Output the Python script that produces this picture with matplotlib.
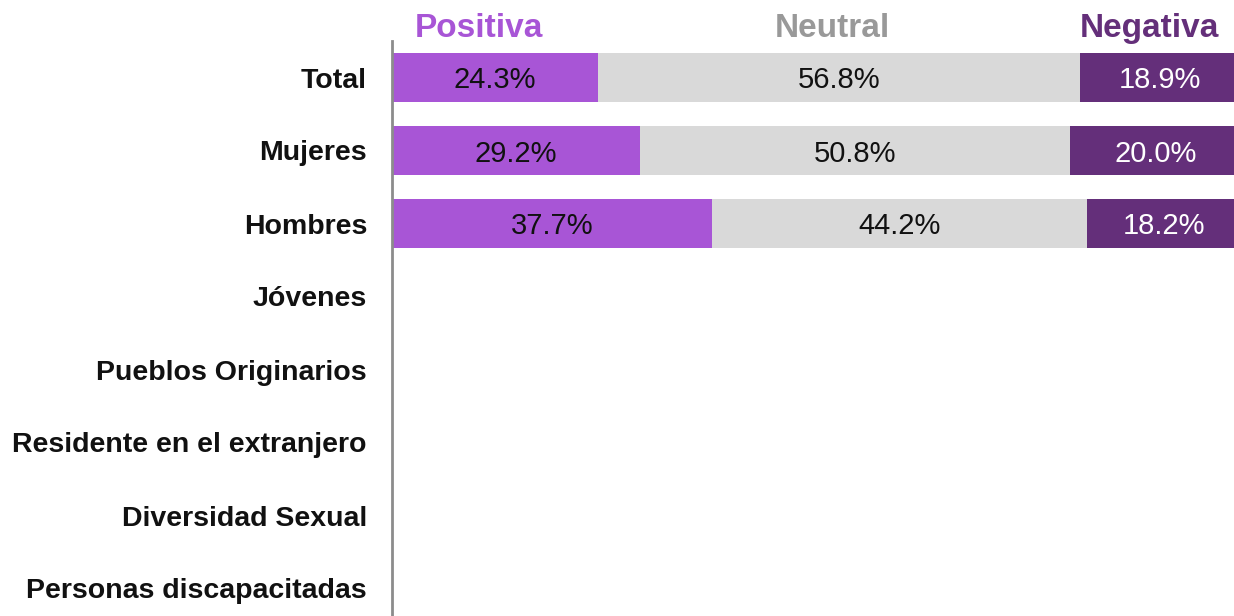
import matplotlib
matplotlib.use("Agg")
import matplotlib.pyplot as plt

categories = ["Total", "Mujeres", "Hombres", "Jóvenes", "Pueblos Originarios",
              "Residente en el extranjero", "Diversidad Sexual", "Personas discapacitadas"]
positiva = [24.3, 29.2, 37.7, None, None, None, None, None]
neutral = [56.8, 50.8, 44.2, None, None, None, None, None]
negativa = [18.9, 20.0, 18.2, None, None, None, None, None]
series_names = ["Positiva", "Neutral", "Negativa"]

c_pos = "#A855D6"
c_neu = "#D9D9D9"
c_neg = "#642F7A"
c_head_neu = "#999999"

plt.rcParams['font.family'] = ['Liberation Sans', 'DejaVu Sans']

W, H = 1234, 616
fig = plt.figure(figsize=(W / 100, H / 100), dpi=100)
# axes in pixel coordinates: left 392, right 1240, top 41, bottom 625
x0, x1, yt, yb = 392, 1240, 41, 625
ax = fig.add_axes([x0 / W, 1 - yb / H, (x1 - x0) / W, (yb - yt) / H])

ys = list(range(len(categories)))
h = 0.66
for i, y in enumerate(ys):
    p, n, g = positiva[i], neutral[i], negativa[i]
    if p is None:
        continue
    ax.barh(y, p, left=0, height=h, color=c_pos, edgecolor="none")
    ax.barh(y, n, left=p, height=h, color=c_neu, edgecolor="none")
    ax.barh(y, g, left=p + n, height=h, color=c_neg, edgecolor="none")
    ax.text(p / 2, y, f"{p:.1f}%", ha="center", va="center_baseline", fontsize=21, color="#111111")
    ax.text(p + n / 2, y, f"{n:.1f}%", ha="center", va="center_baseline", fontsize=21, color="#111111")
    ax.text(p + n + g / 2, y, f"{g:.1f}%", ha="center", va="center_baseline", fontsize=21, color="white")

ax.set_xlim(0, 100)
ax.set_ylim(len(categories) - 0.5, -0.5)
ax.set_yticks(ys)
ax.set_yticklabels(categories, fontsize=20.5, fontweight="bold", color="#111111")
ax.tick_params(axis="y", length=0, pad=18)
ax.set_xticks([])
for s in ["top", "right", "bottom"]:
    ax.spines[s].set_visible(False)
ax.spines["left"].set_color("#8C8C8C")
ax.spines["left"].set_linewidth(2)

# header labels (baseline placed in pixel coordinates)
head_base = 37
def fy(py):
    return 1 - py / H
fig.text(478.5 / W, fy(head_base), series_names[0], ha="center", va="baseline", fontsize=24,
         fontweight="bold", color=c_pos)
fig.text(832 / W, fy(head_base), series_names[1], ha="center", va="baseline", fontsize=24,
         fontweight="bold", color=c_head_neu)
fig.text(1149 / W, fy(head_base), series_names[2], ha="center", va="baseline", fontsize=24,
         fontweight="bold", color=c_neg)

fig.savefig("out.png", dpi=100)
